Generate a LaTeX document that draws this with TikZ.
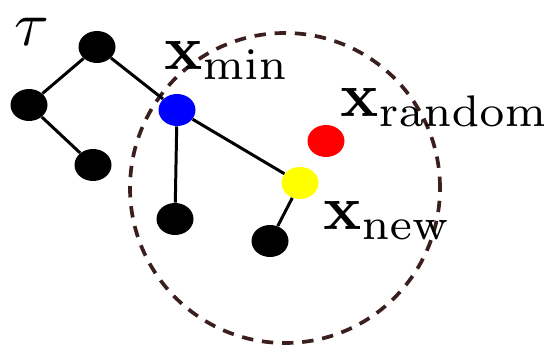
\documentclass[tikz,border=0pt]{standalone}
\usepackage{amsmath,amssymb}
\usepackage{xcolor}
\usepackage{tikz}
\usetikzlibrary{shapes.geometric}
\definecolor{ring}{HTML}{3B1F1F}
\definecolor{nearest}{HTML}{0000FF}
\definecolor{sample}{HTML}{FF0000}
\definecolor{fresh}{HTML}{FFFF00}
\tikzset{
  vert/.style={ellipse, fill=black, minimum width=0.74cm, minimum height=0.64cm, inner sep=0pt},
  edge/.style={draw=black, line width=1.7pt},
  reach/.style={draw=ring, line width=2.1pt, dash pattern=on 6.5pt off 5pt},
  lab/.style={inner sep=0pt, anchor=base west, scale=3.6},
}
\begin{document}
\begin{tikzpicture}
  \useasboundingbox (0,0) rectangle (10.88,6.90);
  % neighbourhood of the new sample
  \draw[reach] (5.70,3.14) circle (3.1);
  % tree vertices
  \node[vert] (top) at (1.94,5.96) {};
  \node[vert] (left) at (0.58,4.80) {};
  \node[vert] (low) at (1.86,3.60) {};
  \node[vert, fill=nearest] (xmin) at (3.54,4.70) {};
  \node[vert] (minkid) at (3.50,2.52) {};
  \node[vert, fill=fresh] (xnew) at (6.00,3.24) {};
  \node[vert] (newkid) at (5.40,2.08) {};
  \node[vert, fill=sample] (xrand) at (6.52,4.08) {};
  % tree edges
  \draw[edge] (top) -- (left);
  \draw[edge] (left) -- (low);
  \draw[edge] (top) -- (xmin);
  \draw[edge] (xmin) -- (minkid);
  \draw[edge] (xmin) -- (xnew);
  \draw[edge] (xnew) -- (newkid);
  % labels
  \node[lab] (tau) at (0.26,5.98) {$\tau$};
  \node[lab] (lmin) at (3.26,5.50) {$\mathbf{x}_{\min}$};
  \node[lab] (lrand) at (6.78,4.56) {$\mathbf{x}_{\mathrm{random}}$};
  \node[lab] (lnew) at (6.44,2.30) {$\mathbf{x}_{\mathrm{new}}$};
\end{tikzpicture}
\end{document}
